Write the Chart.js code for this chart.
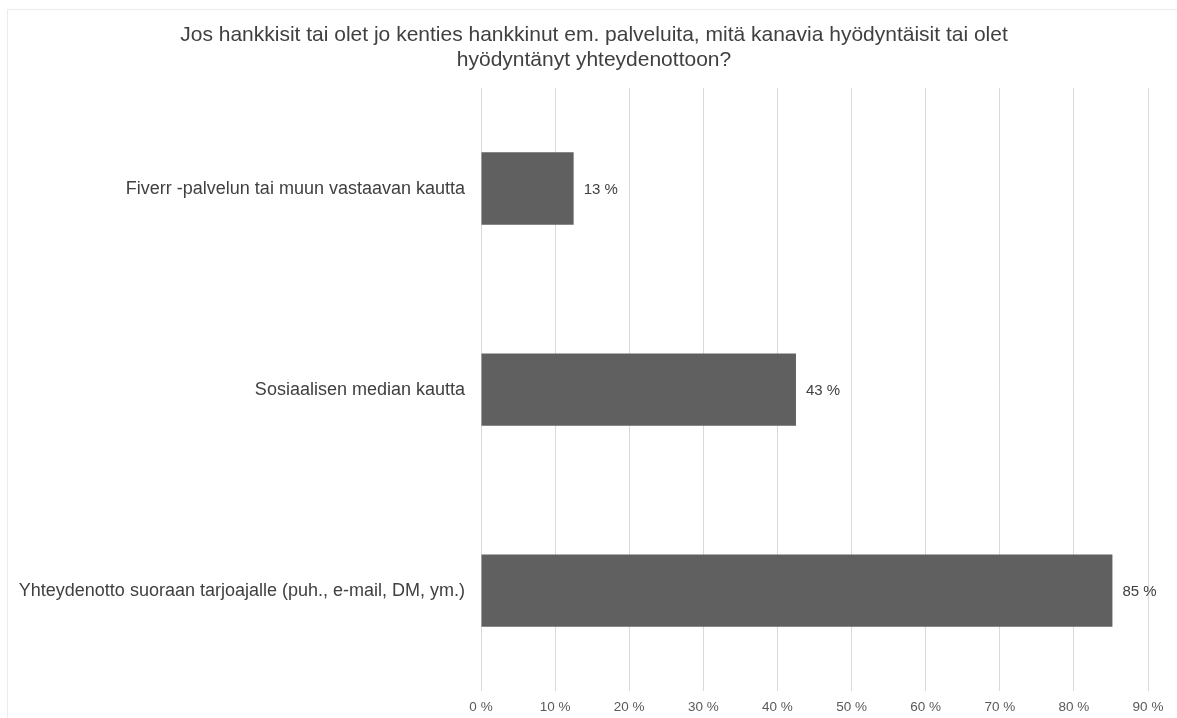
<!DOCTYPE html>
<html>
<head>
<meta charset="utf-8">
<script src="https://cdn.jsdelivr.net/npm/chart.js@4/dist/chart.umd.min.js"></script>
<style>
  html, body { margin: 0; padding: 0; background: #fff; }
  #frame { position: absolute; left: 7px; top: 9px; width: 1200px; height: 720px;
           border-left: 1px solid #ececec; border-top: 1px solid #ececec; }
  #wrap { position: absolute; left: 0; top: 0; width: 1177px; height: 718px; }
</style>
</head>
<body>
<div id="frame"></div>
<div id="wrap"><canvas id="chart"></canvas></div>
<script>
// data
const categories = [
    'Fiverr -palvelun tai muun vastaavan kautta',
    'Sosiaalisen median kautta',
    'Yhteydenotto suoraan tarjoajalle (puh., e-mail, DM, ym.)'
];
const shares = [12.5, 42.5, 85.2];
const titleLines = [
    'Jos hankkisit tai olet jo kenties hankkinut em. palveluita, mitä kanavia hyödyntäisit tai olet',
    'hyödyntänyt yhteydenottoon?'
];
const xMax = 90;
const xStep = 10;

// title, centred a bit right of the canvas middle like the original
const titleDraw = {
    id: 'titleDraw',
    afterDraw(chart) {
        const ctx = chart.ctx;
        ctx.save();
        ctx.font = '21px "Liberation Sans", Arial, sans-serif';
        ctx.fillStyle = '#404040';
        ctx.textAlign = 'center';
        ctx.textBaseline = 'middle';
        titleLines.forEach((line, i) => {
            ctx.fillText(line, 594, 35 + i * 25);
        });
        ctx.restore();
    }
};

// labels at the end of each bar
const barLabels = {
    id: 'barLabels',
    afterDatasetsDraw(chart) {
        const ctx = chart.ctx;
        const meta = chart.getDatasetMeta(0);
        ctx.save();
        ctx.font = '15px "Liberation Sans", Arial, sans-serif';
        ctx.fillStyle = '#404040';
        ctx.textAlign = 'left';
        ctx.textBaseline = 'middle';
        meta.data.forEach((bar, i) => {
            ctx.fillText(Math.round(shares[i]) + ' %', bar.x + 10, bar.y + 1);
        });
        ctx.restore();
    }
};

new Chart(document.getElementById('chart'), {
    type: 'bar',
    data: {
        labels: categories,
        datasets: [{
            data: shares,
            backgroundColor: '#606060',
            borderWidth: 0,
            categoryPercentage: 1,
            barPercentage: 0.36
        }]
    },
    options: {
        indexAxis: 'y',
        responsive: true,
        maintainAspectRatio: false,
        animation: false,
        layout: { padding: { left: 0, right: 29, top: 88, bottom: 0 } },
        plugins: {
            legend: { display: false },
            tooltip: { enabled: false },
            title: { display: false }
        },
        scales: {
            x: {
                min: 0,
                max: xMax,
                grid: { color: '#d9d9d9', drawTicks: false },
                border: { display: false },
                ticks: {
                    stepSize: xStep,
                    padding: 8,
                    color: '#595959',
                    font: { family: '"Liberation Sans", Arial, sans-serif', size: 13.5 },
                    callback: v => v + ' %'
                },
                afterFit: s => { s.height = 26; }
            },
            y: {
                grid: { display: false, drawTicks: false },
                border: { display: false },
                ticks: {
                    padding: 16,
                    color: '#404040',
                    font: { family: '"Liberation Sans", Arial, sans-serif', size: 18 }
                },
                afterFit: s => { s.width = 481; }
            }
        }
    },
    plugins: [barLabels, titleDraw]
});
</script>
</body>
</html>
